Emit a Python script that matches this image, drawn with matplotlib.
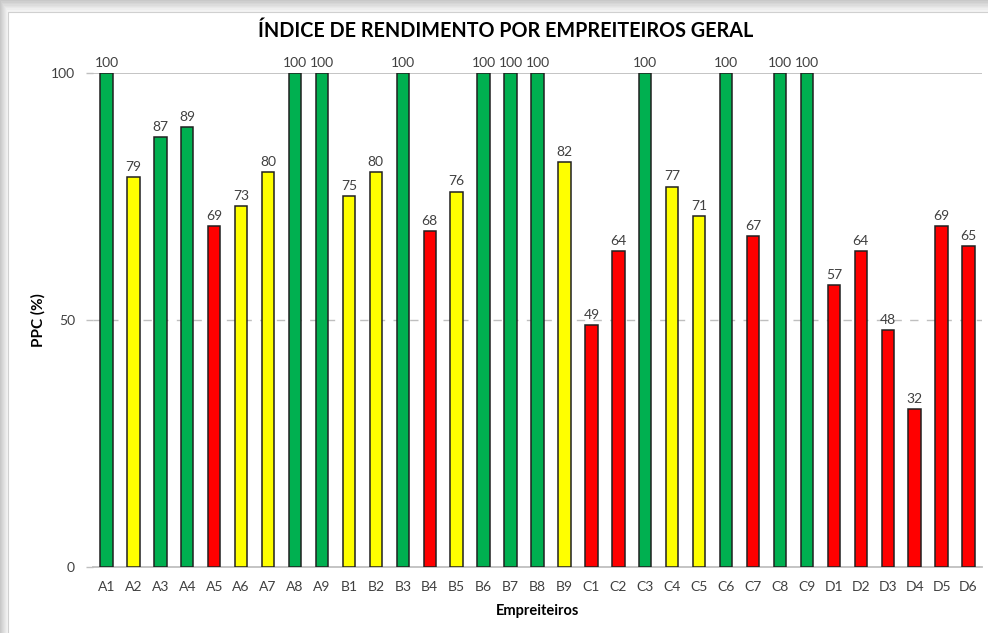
import matplotlib
matplotlib.use("Agg")
import matplotlib.pyplot as plt
from matplotlib.patches import Rectangle

categories = ["A1", "A2", "A3", "A4", "A5", "A6", "A7", "A8", "A9",
              "B1", "B2", "B3", "B4", "B5", "B6", "B7", "B8", "B9",
              "C1", "C2", "C3", "C4", "C5", "C6", "C7", "C8", "C9",
              "D1", "D2", "D3", "D4", "D5", "D6"]
values = [100, 79, 87, 89, 69, 73, 80, 100, 100,
          75, 80, 100, 68, 76, 100, 100, 100, 82,
          49, 64, 100, 77, 71, 100, 67, 100, 100,
          57, 64, 48, 32, 69, 65]
yticks = [0, 50, 100]

GREEN, YELLOW, RED = "#00B050", "#FFFF00", "#FF0000"
def color_for(v):
    if v >= 85:
        return GREEN
    if v >= 70:
        return YELLOW
    return RED
colors = [color_for(v) for v in values]

FONT = ["Lato", "DejaVu Sans"]
plt.rcParams["font.family"] = FONT

W, H = 988, 633
fig = plt.figure(figsize=(W / 100, H / 100), dpi=100)
fig.patch.set_facecolor("white")

# shadowed frame
grays = ["#c8c8c8", "#cfcfcf", "#d6d6d6", "#dcdcdc", "#e2e2e2", "#e8e8e8", "#eeeeee", "#f3f3f3"]
for i, g in enumerate(grays):
    fig.patches.append(Rectangle((0, 0), 1, 1, transform=fig.transFigure,
                                 facecolor=g, edgecolor="none", zorder=-10 + i * 0.01))
for i, g in enumerate(grays):
    x0 = i / W
    fig.patches.append(Rectangle((x0, 0), 1.1, 1 - (i * 1.4) / H, transform=fig.transFigure,
                                 facecolor=g, edgecolor="none", zorder=-9 + i * 0.01))
fig.patches.append(Rectangle((8 / W, -0.1), 1.1, 1.1 - 12 / H, transform=fig.transFigure,
                             facecolor="white", edgecolor="#d0d0d0", linewidth=0.8, zorder=-8))

left, right, top, bottom = 93, 982, 73, 567
ax = fig.add_axes([left / W, 1 - bottom / H, (right - left) / W, (bottom - top) / H])
ax.set_facecolor("none")

x = list(range(len(categories)))
ax.bar(x, values, width=0.46, color=colors, edgecolor="#202020", linewidth=1.1, zorder=3)

ax.set_xlim(-0.5, len(categories) - 0.5)
ax.set_ylim(0, 100)

ax.axhline(100, color="#BFBFBF", linewidth=1.3, zorder=1)
ax.axhline(50, color="#BFBFBF", linewidth=1.0, linestyle=(0, (6, 6)), zorder=1)
ax.axhline(0, color="#BFBFBF", linewidth=1.3, zorder=1, clip_on=False)

for s in ax.spines.values():
    s.set_visible(False)

ax.set_yticks(yticks)
ax.set_yticklabels([str(t) for t in yticks])
ax.tick_params(axis="y", length=5, color="#BFBFBF", width=1.0, labelsize=10,
               labelcolor="#404040", pad=8)
ax.set_xticks(x)
ax.set_xticklabels(categories)
ax.tick_params(axis="x", length=0, labelsize=10, labelcolor="#404040", pad=10)

for xi, v in zip(x, values):
    ax.annotate(str(v), (xi, v), xytext=(0, 3), textcoords="offset points",
                ha="center", va="bottom", fontsize=10, color="#404040", zorder=4)

ax.set_ylabel("PPC (%)", fontsize=11, fontweight="bold", color="black", labelpad=4)
ax.set_xlabel("Empreiteiros", fontsize=10.5, fontweight="bold", color="black", labelpad=8)

fig.text(506 / W, 1 - 31 / H, "ÍNDICE DE RENDIMENTO POR EMPREITEIROS GERAL",
         ha="center", va="center", fontsize=14.2, fontweight="bold", color="black")

fig.savefig("out.png", dpi=100)
